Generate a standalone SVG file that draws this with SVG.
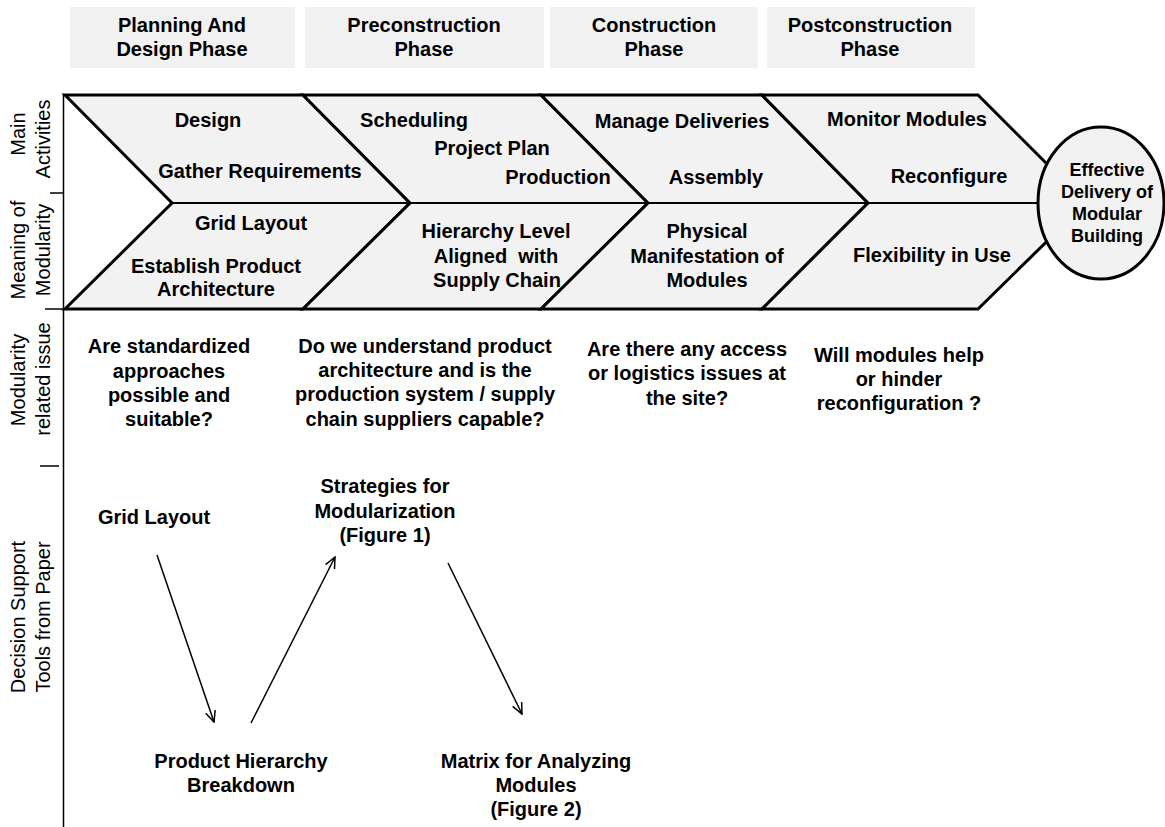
<svg xmlns="http://www.w3.org/2000/svg" width="1165" height="827" viewBox="0 0 1165 827">
<defs>
<style>
.hdr{fill:#f1f1f1}
.b{font-family:"Liberation Sans",Arial,sans-serif;font-weight:bold;font-size:20px;fill:#000;text-anchor:middle}
.c{font-family:"Liberation Sans",Arial,sans-serif;font-weight:bold;font-size:18px;fill:#000;text-anchor:middle}
.l{font-family:"Liberation Sans",Arial,sans-serif;font-size:20px;fill:#000;text-anchor:middle}
.chev{fill:#f2f2f2;stroke:#000;stroke-width:3;stroke-linejoin:miter}
.ax{stroke:#000;stroke-width:1.5;fill:none}
.arr{stroke:#000;stroke-width:1.5;fill:none}
</style>
<marker id="ah" viewBox="0 0 12 12" refX="11" refY="6" markerWidth="12" markerHeight="12" markerUnits="userSpaceOnUse" orient="auto">
<path d="M0,1 L11,6 L0,11" fill="none" stroke="#000" stroke-width="1.5"/>
</marker>
</defs>
<rect width="1165" height="827" fill="#fff"/>

<g id="phase-headers">
<g id="phase1"><rect class="hdr" x="70" y="7" width="225" height="61"/><text class="b" x="182" y="32">Planning And</text><text class="b" x="182" y="56">Design Phase</text></g>
<g id="phase2"><rect class="hdr" x="305" y="7" width="239" height="61"/><text class="b" x="424" y="32">Preconstruction</text><text class="b" x="424" y="56">Phase</text></g>
<g id="phase3"><rect class="hdr" x="550" y="7" width="208" height="61"/><text class="b" x="654" y="32">Construction</text><text class="b" x="654" y="56">Phase</text></g>
<g id="phase4"><rect class="hdr" x="767" y="7" width="208" height="61"/><text class="b" x="870" y="32">Postconstruction</text><text class="b" x="870" y="56">Phase</text></g>
</g>

<g id="axis">
<line class="ax" x1="63.5" y1="95" x2="63.5" y2="827"/>
<line class="ax" x1="50" y1="193" x2="63" y2="193"/>
<line class="ax" x1="45" y1="309" x2="63" y2="309"/>
<line class="ax" x1="40" y1="466" x2="59" y2="466"/>
<text class="l" transform="translate(25,134) rotate(-90)">Main</text>
<text class="l" transform="translate(50,139) rotate(-90)">Activities</text>
<text class="l" transform="translate(25,250) rotate(-90)">Meaning of</text>
<text class="l" transform="translate(50,250) rotate(-90)">Modularity</text>
<text class="l" transform="translate(25,380) rotate(-90)">Modularity</text>
<text class="l" transform="translate(50,379) rotate(-90)">related issue</text>
<text class="l" transform="translate(25,617) rotate(-90)">Decision Support</text>
<text class="l" transform="translate(50,617) rotate(-90)">Tools from Paper</text>
</g>

<g id="chevron1">
<polygon class="chev" points="65,95 303,95 410,203 303,309 65,309 172,203"/>
<text class="b" x="208" y="127">Design</text>
<text class="b" x="260" y="178">Gather Requirements</text>
<text class="b" x="251" y="230">Grid Layout</text>
<text class="b" x="216" y="273">Establish Product</text>
<text class="b" x="216" y="296">Architecture</text>
</g>
<g id="chevron2">
<polygon class="chev" points="303,95 541,95 648,203 541,309 303,309 410,203"/>
<text class="b" x="414" y="127">Scheduling</text>
<text class="b" x="492" y="155">Project Plan</text>
<text class="b" x="558" y="184">Production</text>
<text class="b" x="496" y="238">Hierarchy Level</text>
<text class="b" x="496" y="263" xml:space="preserve">Aligned  with</text>
<text class="b" x="497" y="287">Supply Chain</text>
</g>
<g id="chevron3">
<polygon class="chev" points="541,95 762,95 868,203 762,309 541,309 648,203"/>
<text class="b" x="682" y="128">Manage Deliveries</text>
<text class="b" x="716" y="184">Assembly</text>
<text class="b" x="707" y="238">Physical</text>
<text class="b" x="707" y="263">Manifestation of</text>
<text class="b" x="707" y="287">Modules</text>
</g>
<g id="chevron4">
<polygon class="chev" points="762,95 978,95 1086,203 978,309 762,309 868,203"/>
<text class="b" x="907" y="126">Monitor Modules</text>
<text class="b" x="949" y="183">Reconfigure</text>
<text class="b" x="932" y="262">Flexibility in Use</text>
</g>
<line id="midline" x1="172" y1="203" x2="1040" y2="203" stroke="#000" stroke-width="2"/>
<g id="goal">
<ellipse cx="1101" cy="203" rx="63" ry="76" fill="#f2f2f2" stroke="#000" stroke-width="3"/>
<text class="c" x="1107" y="176">Effective</text>
<text class="c" x="1107" y="198">Delivery of</text>
<text class="c" x="1107" y="220">Modular</text>
<text class="c" x="1107" y="242">Building</text>
</g>

<g id="issue1"><text class="b" x="169" y="353">Are standardized</text><text class="b" x="169" y="378">approaches</text><text class="b" x="169" y="402">possible and</text><text class="b" x="169" y="426">suitable?</text></g>
<g id="issue2"><text class="b" x="425" y="353">Do we understand product</text><text class="b" x="425" y="377">architecture and is the</text><text class="b" x="425" y="401">production system / supply</text><text class="b" x="425" y="426">chain suppliers capable?</text></g>
<g id="issue3"><text class="b" x="687" y="356">Are there any access</text><text class="b" x="687" y="380">or logistics issues at</text><text class="b" x="687" y="405">the site?</text></g>
<g id="issue4"><text class="b" x="899" y="362">Will modules help</text><text class="b" x="899" y="386">or hinder</text><text class="b" x="899" y="410">reconfiguration ?</text></g>

<g id="tool-grid"><text class="b" x="154" y="524">Grid Layout</text></g>
<g id="tool-strategies"><text class="b" x="385" y="493">Strategies for</text><text class="b" x="385" y="518">Modularization</text><text class="b" x="385" y="542">(Figure 1)</text></g>
<g id="tool-hierarchy"><text class="b" x="241" y="768">Product Hierarchy</text><text class="b" x="241" y="792">Breakdown</text></g>
<g id="tool-matrix"><text class="b" x="536" y="768">Matrix for Analyzing</text><text class="b" x="536" y="792">Modules</text><text class="b" x="536" y="816">(Figure 2)</text></g>

<g id="connectors">
<line class="arr" x1="157" y1="555" x2="214" y2="722" marker-end="url(#ah)"/>
<line class="arr" x1="251" y1="723" x2="335" y2="557" marker-end="url(#ah)"/>
<line class="arr" x1="448" y1="563" x2="522" y2="714" marker-end="url(#ah)"/>
</g>
</svg>
